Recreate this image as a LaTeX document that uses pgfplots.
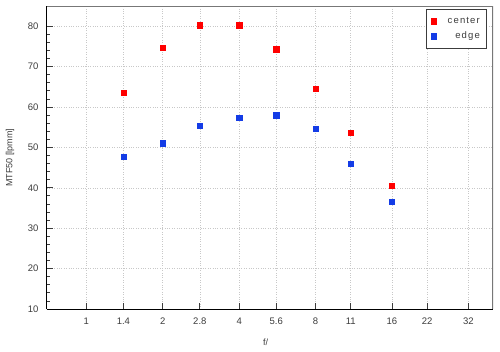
\documentclass[border=0pt]{standalone}
\usepackage{pgfplots}
\pgfplotsset{compat=1.18}
\usepackage{fontspec}
\setmainfont{Liberation Sans}
\definecolor{cred}{RGB}{255,0,0}
\definecolor{cblue}{RGB}{20,60,230}
\definecolor{gridc}{RGB}{200,200,200}
\definecolor{txt}{RGB}{60,60,60}
\begin{document}
\begin{tikzpicture}
\useasboundingbox (0pt,0pt) rectangle (500pt,351pt);
\begin{axis}[
  at={(47pt,42pt)}, anchor=south west,
  scale only axis, width=446pt, height=303pt,
  xmode=log, log basis x=2,
  xmin=0.7, xmax=40, ymin=10, ymax=85,
  xtick={1,1.4,2,2.8,4,5.6,8,11,16,22,32},
  xticklabels={1,1.4,2,2.8,4,5.6,8,11,16,22,32},
  ytick={10,20,30,40,50,60,70,80},
  minor y tick num=4,
  xminorticks=false,
  grid=major,
  major grid style={gridc, dotted, line width=0.6pt},
  tick align=inside,
  xtick pos=bottom, ytick pos=left,
  major tick length=6pt, minor tick length=3pt,
  tick style={txt, line width=0.8pt},
  axis line style={line width=1pt},
  axis x line*=bottom, axis y line*=left,
  ticklabel style={font=\fontsize{9.5}{11}\selectfont, text=txt},
  xticklabel style={yshift=-5pt},
  yticklabel style={xshift=-5pt},
  /pgf/number format/assume math mode=true,
  xlabel={f/}, ylabel={MTF50 [lpmm]},
  label style={font=\fontsize{9}{11}\selectfont, text=txt},
  xlabel style={at={(axis description cs:0.49,-0.109)}, anchor=center},
  ylabel style={at={(axis description cs:-0.083,0.5)}, anchor=center},
  legend style={at={(0.987,0.99)}, anchor=north east, draw=txt, line width=0.8pt,
    font=\fontsize{9.5}{11}\selectfont\addfontfeature{LetterSpace=12}, text=txt,
    inner xsep=5pt, inner ysep=6pt, row sep=3pt,
    /tikz/every odd column/.append style={column sep=9pt}},
  legend cell align=right,
]
\draw[txt!70, line width=1.2pt] (rel axis cs:0,1) -- (rel axis cs:1,1) -- (rel axis cs:1,0);
\addplot[only marks, mark=square*, mark size=2.7pt, color=cred] coordinates {
 (1.4,63.5) (2,74.7) (2.8,80.2) (4,80.2) (5.6,74.3) (8,64.5) (11,53.6) (16,40.5)};
\addlegendentry{center}
\addplot[only marks, mark=square*, mark size=2.7pt, color=cblue] coordinates {
 (1.4,47.7) (2,51.0) (2.8,55.3) (4,57.4) (5.6,58.0) (8,54.6) (11,46.0) (16,36.5)};
\addlegendentry{edge}
\end{axis}
\end{tikzpicture}
\end{document}
